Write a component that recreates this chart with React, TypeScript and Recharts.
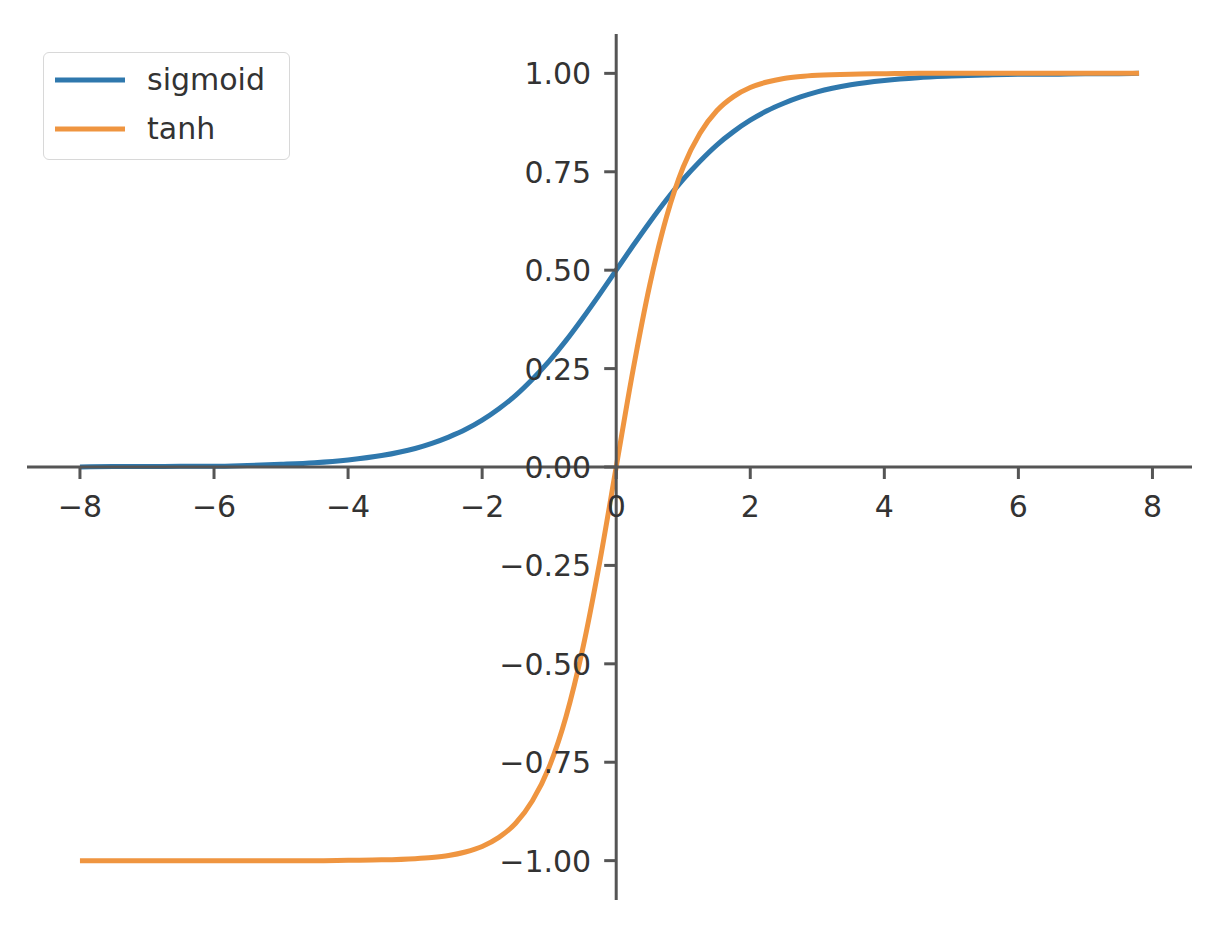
import React from 'react';
import { LineChart, Line, XAxis, YAxis, ReferenceLine, Legend } from 'recharts';

// values
const xs = [
  -8, -7.5, -7, -6.5, -6, -5.5, -5, -4.5, -4, -3.5, -3, -2.75, -2.5, -2.25, -2, -1.75, -1.5, -1.25, -1, -0.75,
  -0.5, -0.25, 0, 0.25, 0.5, 0.75, 1, 1.25, 1.5, 1.75, 2, 2.25, 2.5, 2.75, 3, 3.5, 4, 4.5, 5, 5.5, 6, 6.5, 7, 7.5, 7.8,
];
const sigmoidVals = [
  0.0, 0.001, 0.001, 0.002, 0.002, 0.004, 0.007, 0.011, 0.018, 0.029, 0.047, 0.06, 0.076, 0.095, 0.119, 0.148, 0.182,
  0.223, 0.269, 0.321, 0.378, 0.438, 0.5, 0.562, 0.622, 0.679, 0.731, 0.777, 0.818, 0.852, 0.881, 0.905, 0.924, 0.94,
  0.953, 0.971, 0.982, 0.989, 0.993, 0.996, 0.998, 0.998, 0.999, 0.999, 1.0,
];
const tanhVals = [
  -1.0, -1.0, -1.0, -1.0, -1.0, -1.0, -1.0, -1.0, -0.999, -0.998, -0.995, -0.992, -0.987, -0.978, -0.964, -0.941,
  -0.905, -0.848, -0.762, -0.635, -0.462, -0.245, 0.0, 0.245, 0.462, 0.635, 0.762, 0.848, 0.905, 0.941, 0.964, 0.978,
  0.987, 0.992, 0.995, 0.998, 0.999, 1.0, 1.0, 1.0, 1.0, 1.0, 1.0, 1.0, 1.0,
];
const xTicks = [-8, -6, -4, -2, 0, 2, 4, 6, 8];
const yTicks = [-1, -0.75, -0.5, -0.25, 0, 0.25, 0.5, 0.75, 1];

const data = xs.map((x, i) => ({ x, sigmoid: sigmoidVals[i], tanh: tanhVals[i] }));

const W = 1216;
const H = 932;
// axes get 1px each (a 0px axis draws no ticks), so the margins are one less
const margin = { top: 34, right: 24, bottom: 31, left: 26 };
const xDomain: [number, number] = [-8.79, 8.59];
const yDomain: [number, number] = [-1.1, 1.1];
const plotLeft = margin.left + 1;
const plotW = W - plotLeft - margin.right;
const plotH = H - margin.top - margin.bottom - 1;
// pixel position of the centred spines
const X0 = plotLeft + ((0 - xDomain[0]) / (xDomain[1] - xDomain[0])) * plotW;
const Y0 = margin.top + ((yDomain[1] - 0) / (yDomain[1] - yDomain[0])) * plotH;

const FONT = '"DejaVu Sans", sans-serif';
const FS = 30;
const TEXT = '#333';
const AXIS = '#555';
const BLUE = '#2f78ad';
const ORANGE = '#ef9540';

const fmt = (v: number, digits: number) => {
  const s = v.toFixed(digits);
  return s.startsWith('-') ? '\u2212' + s.slice(1) : s;
};

const XTick = (props: any) => {
  const { x, payload } = props;
  return (
    <g>
      <line x1={x} x2={x} y1={Y0} y2={Y0 + 12} stroke={AXIS} strokeWidth={3} />
      <text x={x} y={Y0 + 50} textAnchor="middle" fontSize={FS} fontFamily={FONT} fill={TEXT}>
        {fmt(payload.value, 0)}
      </text>
    </g>
  );
};

const YTick = (props: any) => {
  const { y, payload } = props;
  return (
    <g>
      <line x1={X0 - 12} x2={X0} y1={y} y2={y} stroke={AXIS} strokeWidth={3} />
      <text x={X0 - 25} y={y + 11} textAnchor="end" fontSize={FS} fontFamily={FONT} fill={TEXT}>
        {fmt(payload.value, 2)}
      </text>
    </g>
  );
};

const renderLegend = (props: any) => {
  const items = props.payload || [];
  return (
    <div
      style={{
        width: 247,
        height: 108,
        boxSizing: 'border-box',
        border: '1.5px solid #d8d8d8',
        borderRadius: 6,
        background: 'rgba(255,255,255,0.8)',
        paddingTop: 2,
        fontFamily: FONT,
        fontSize: FS,
        color: TEXT,
      }}
    >
      {items.map((it: any) => (
        <div key={it.value} style={{ display: 'flex', alignItems: 'center', height: 49 }}>
          <svg width={92} height={10} style={{ marginLeft: 11 }}>
            <line x1={0} x2={70} y1={5} y2={5} stroke={it.color} strokeWidth={5} />
          </svg>
          <span style={{ lineHeight: '49px' }}>{it.value}</span>
        </div>
      ))}
    </div>
  );
};

export default function App() {
  return (
    <div style={{ position: 'absolute', left: 0, top: 0, width: W, height: H, background: '#fff' }}>
      <LineChart width={W} height={H} data={data} margin={margin}>
        <XAxis
          dataKey="x"
          type="number"
          domain={xDomain}
          ticks={xTicks}
          interval={0}
          height={1}
          axisLine={false}
          tickLine={false}
          tick={(p: any) => <XTick {...p} />}
        />
        <YAxis
          type="number"
          domain={yDomain}
          ticks={yTicks}
          interval={0}
          width={1}
          axisLine={false}
          tickLine={false}
          tick={(p: any) => <YTick {...p} />}
        />
        <Line
          dataKey="sigmoid"
          name="sigmoid"
          type="monotone"
          stroke={BLUE}
          strokeWidth={5}
          dot={false}
          isAnimationActive={false}
        />
        <Line
          dataKey="tanh"
          name="tanh"
          type="monotone"
          stroke={ORANGE}
          strokeWidth={5}
          dot={false}
          isAnimationActive={false}
        />
        <ReferenceLine x={0} stroke={AXIS} strokeWidth={3} />
        <ReferenceLine y={0} stroke={AXIS} strokeWidth={3} />
        <Legend
          layout="vertical"
          verticalAlign="middle"
          align="center"
          content={renderLegend}
          wrapperStyle={{ position: 'absolute', left: 43, top: 52, width: 'auto', height: 'auto' }}
        />
      </LineChart>
    </div>
  );
}
